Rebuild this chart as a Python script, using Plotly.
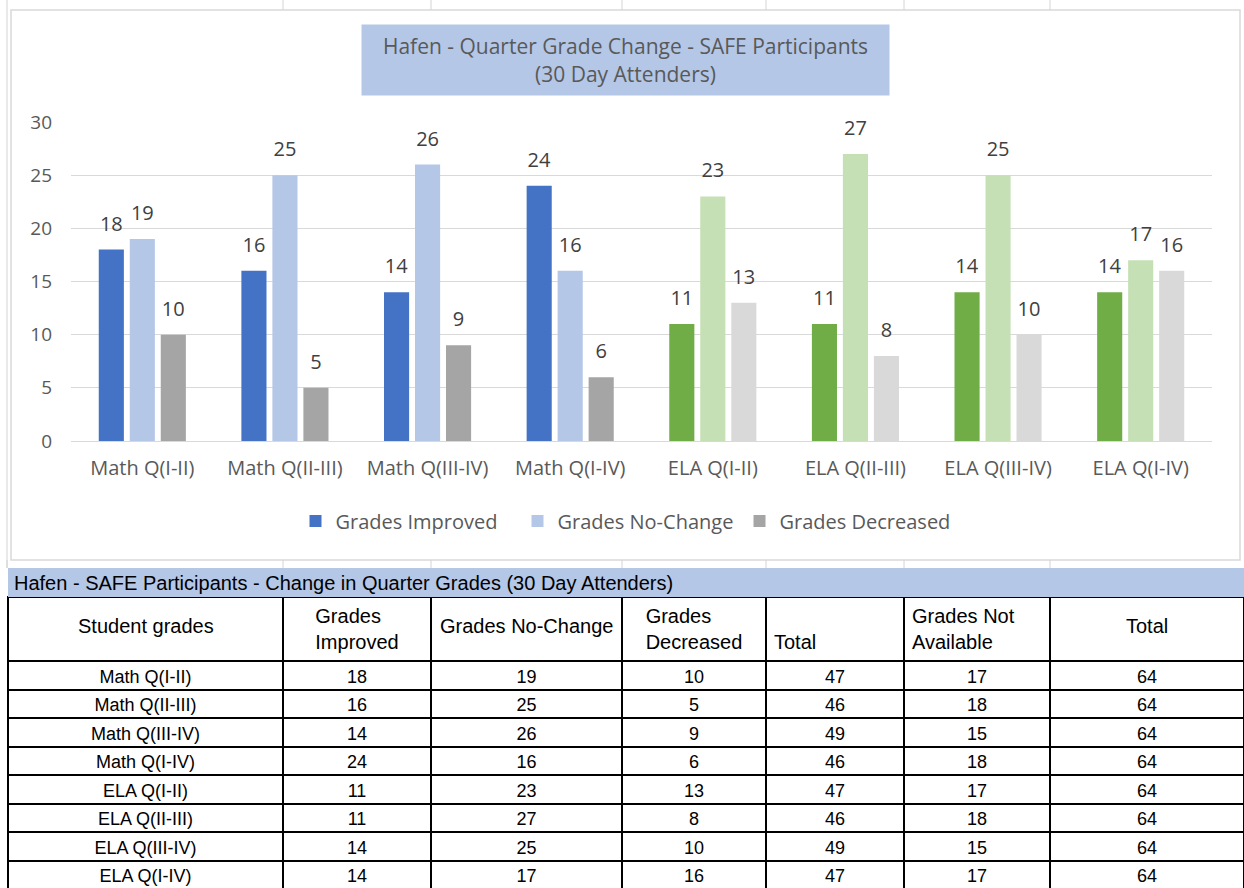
import plotly.graph_objects as go

categories = ["Math Q(I-II)", "Math Q(II-III)", "Math Q(III-IV)", "Math Q(I-IV)",
              "ELA Q(I-II)", "ELA Q(II-III)", "ELA Q(III-IV)", "ELA Q(I-IV)"]
improved = [18, 16, 14, 24, 11, 11, 14, 14]
no_change = [19, 25, 26, 16, 23, 27, 25, 17]
decreased = [10, 5, 9, 6, 13, 8, 10, 16]
total = [47, 46, 49, 46, 47, 46, 49, 47]
not_available = [17, 18, 15, 18, 17, 18, 15, 17]
grand_total = [64, 64, 64, 64, 64, 64, 64, 64]

header_labels = ["Student grades", "Grades<br>Improved", "Grades No-Change",
                 "Grades<br>Decreased", "Total", "Grades Not<br>Available", "Total"]

subjects = ["Math"] * 4 + ["ELA"] * 4
palette = {
    "Math": ("#4472C4", "#B4C7E7", "#A5A5A5"),
    "ELA": ("#70AD47", "#C5E0B4", "#D9D9D9"),
}

W, H = 1244, 888
def px_x(x):
    return x / W
def px_y(y):
    return 1 - y / H

CHART_FONT = "Open Sans, Noto Sans, sans-serif"
TABLE_FONT = "Liberation Sans, Arial, sans-serif"

fig = go.Figure()
series = [("Grades Improved", improved, 0), ("Grades No-Change", no_change, 1),
          ("Grades Decreased", decreased, 2)]
for name, vals, k in series:
    fig.add_trace(go.Bar(
        x=categories, y=vals, name=name,
        marker=dict(color=[palette[s][k] for s in subjects], line=dict(width=0)),
        # small trailing line gives the label the Excel-like gap above the bar
        texttemplate="<span style='font-size:20px'>%{y}</span><br>\u00a0",
        textposition="outside", cliponaxis=False, constraintext="none",
        textfont=dict(family=CHART_FONT, size=10, color="#404040"),
        xaxis="x", yaxis="y",
    ))

col_widths = [275, 148, 191, 144, 138, 146, 194]
table_x0, table_x1 = 8, 1244
header_top, header_bot = 597, 655

single = {0, 2, 6}
header_vals = []
for i, lab in enumerate(header_labels):
    if i in single:
        header_vals.append("")
    elif i == 4:
        header_vals.append("\u00a0<br>" + lab)
    else:
        header_vals.append(lab)

fig.add_trace(go.Table(
    domain=dict(x=[px_x(table_x0), px_x(table_x1)], y=[0, px_y(header_top)]),
    columnwidth=col_widths,
    header=dict(
        values=header_vals,
        align=["center", "center", "center", "center", "left", "left", "center"],
        height=header_bot - header_top,
        fill=dict(color="white"),
        line=dict(color="black", width=2),
        font=dict(family=TABLE_FONT, size=20, color="black"),
    ),
    cells=dict(
        values=[categories, improved, no_change, decreased, total, not_available, grand_total],
        align="center",
        height=28.5,
        fill=dict(color="white"),
        line=dict(color="black", width=2),
        font=dict(family=TABLE_FONT, size=18, color="black"),
    ),
))

shapes = []
shapes.append(dict(type="rect", xref="paper", yref="paper",
                   x0=px_x(11), x1=px_x(1240), y0=px_y(560), y1=px_y(10),
                   line=dict(color="#D9D9D9", width=1.5), layer="below"))
for gx in [7, 283, 431, 622, 766, 904, 1050]:
    shapes.append(dict(type="line", xref="paper", yref="paper",
                       x0=px_x(gx), x1=px_x(gx), y0=px_y(10), y1=1,
                       line=dict(color="#D4D4D4", width=1)))
    shapes.append(dict(type="line", xref="paper", yref="paper",
                       x0=px_x(gx), x1=px_x(gx), y0=px_y(568), y1=px_y(560),
                       line=dict(color="#D4D4D4", width=1)))
shapes.append(dict(type="line", xref="paper", yref="paper",
                   x0=px_x(7), x1=px_x(7), y0=px_y(568), y1=px_y(10),
                   line=dict(color="#D4D4D4", width=1)))
shapes.append(dict(type="rect", xref="paper", yref="paper",
                   x0=px_x(8), x1=1.0, y0=px_y(597), y1=px_y(568),
                   fillcolor="#B4C7E7", line=dict(width=0)))

annotations = [
    dict(text="Hafen - Quarter Grade Change - SAFE Participants<br>(30 Day Attenders)",
         xref="paper", yref="paper", x=px_x(625.5), y=px_y(60),
         xanchor="center", yanchor="middle", showarrow=False,
         width=527, height=70, bgcolor="#B4C7E7", borderpad=0,
         font=dict(family=CHART_FONT, size=21, color="#595959")),
    dict(text="Hafen - SAFE Participants - Change in Quarter Grades (30 Day Attenders)",
         xref="paper", yref="paper", x=px_x(12), y=px_y(582.5),
         xanchor="left", yanchor="middle", showarrow=False,
         font=dict(family=TABLE_FONT, size=20, color="black")),
]
left = table_x0
for i, wdt in enumerate(col_widths):
    if i in single:
        annotations.append(dict(
            text=header_labels[i], xref="paper", yref="paper",
            x=px_x(left + wdt / 2), y=px_y((header_top + header_bot) / 2),
            xanchor="center", yanchor="middle", showarrow=False,
            font=dict(family=TABLE_FONT, size=20, color="black")))
    left += wdt

fig.update_layout(
    width=W, height=H,
    margin=dict(l=0, r=0, t=0, b=0, autoexpand=False),
    paper_bgcolor="white", plot_bgcolor="white",
    barmode="group", bargap=0.348, bargroupgap=0.19,
    xaxis=dict(domain=[px_x(71), px_x(1212)], showgrid=False, showline=True,
               linecolor="#D9D9D9", linewidth=1, ticks="", automargin=False,
               tickfont=dict(family=CHART_FONT, size=20, color="#595959"),
               ticklabelstandoff=9, fixedrange=True),
    yaxis=dict(domain=[px_y(441), px_y(122)], range=[0, 30], dtick=5,
               showgrid=True, gridcolor="#D9D9D9", gridwidth=1, zeroline=False,
               showline=False, ticks="", automargin=False,
               tickfont=dict(family=CHART_FONT, size=19, color="#595959"),
               ticklabelstandoff=18, fixedrange=True),
    legend=dict(orientation="h", x=px_x(628.5), y=px_y(521), xanchor="center",
                yanchor="middle", font=dict(family=CHART_FONT, size=20, color="#595959"),
                entrywidth=177, bgcolor="rgba(0,0,0,0)"),
    shapes=shapes,
    annotations=annotations,
    showlegend=True,
)

fig.write_html("out.html", config={"displayModeBar": False},
               post_script="document.body.style.margin='0';document.body.style.overflow='hidden';")
